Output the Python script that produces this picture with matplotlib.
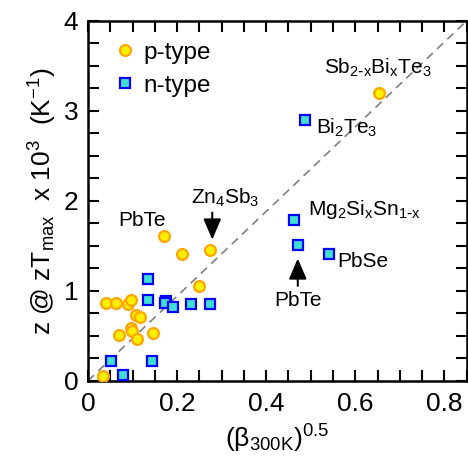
import matplotlib
matplotlib.use('Agg')
import matplotlib.pyplot as plt
from matplotlib.ticker import MultipleLocator

plt.rcParams['font.family'] = ['Liberation Sans', 'DejaVu Sans']
plt.rcParams['mathtext.default'] = 'regular'

# p-type points
p_x = [0.033, 0.040, 0.064, 0.089, 0.096, 0.107, 0.116, 0.069, 0.096,
       0.099, 0.109, 0.145, 0.171, 0.211, 0.249, 0.275, 0.654]
p_y = [0.05, 0.86, 0.86, 0.85, 0.90, 0.73, 0.71, 0.51, 0.585,
       0.555, 0.46, 0.53, 1.615, 1.41, 1.055, 1.45, 3.20]

# n-type points
n_x = [0.052, 0.079, 0.135, 0.135, 0.175, 0.172, 0.191, 0.231, 0.273,
       0.143, 0.487, 0.463, 0.471, 0.540]
n_y = [0.215, 0.067, 1.13, 0.90, 0.89, 0.863, 0.82, 0.852, 0.855,
       0.226, 2.90, 1.79, 1.51, 1.41]

# guide line
guide_x = [0.0, 0.85]
guide_y = [0.0, 4.0]

fig = plt.figure(figsize=(4.68, 4.65), dpi=100)
ax = fig.add_axes([0.188, 0.181, 0.809, 0.774])

ax.plot(guide_x, guide_y, color='#808080', lw=1.2, dashes=(5, 3.5), zorder=1)

ax.plot(n_x, n_y, 's', ms=6.5, mfc='#40e0d0', mec='#0000ff', mew=1.6,
        ls='none', label='n-type', zorder=3)
ax.plot(p_x, p_y, 'o', ms=7.8, mfc='#ffee00', mec='#ffa500', mew=1.6,
        ls='none', label='p-type', zorder=4)

ax.set_xlim(0, 0.85)
ax.set_ylim(0, 4)
ax.xaxis.set_major_locator(MultipleLocator(0.2))
ax.xaxis.set_minor_locator(MultipleLocator(0.05))
ax.yaxis.set_major_locator(MultipleLocator(1))
ax.yaxis.set_minor_locator(MultipleLocator(0.25))
ax.set_xticks([0, 0.2, 0.4, 0.6, 0.8])
ax.set_xticklabels(['0', '0.2', '0.4', '0.6', '0.8'])
ax.tick_params(which='both', direction='in', top=True, right=True,
               length=8, width=1.5, labelsize=19)
ax.tick_params(axis='x', pad=8)
ax.tick_params(axis='y', pad=7)
for s in ax.spines.values():
    s.set_linewidth(1.8)

ax.set_xlabel('(β$_{300K}$)$^{0.5}$', fontsize=19, labelpad=5)
ax.set_ylabel('z @ zT$_{max}$  x 10$^{3}$  (K$^{-1}$)', fontsize=19, labelpad=3)

h, l = ax.get_legend_handles_labels()
ax.legend(h[::-1], l[::-1], loc='upper left', frameon=False, fontsize=17.5,
          handletextpad=0.15, handlelength=1.2, borderaxespad=0.3,
          bbox_to_anchor=(0.014, 0.99), labelspacing=0.45)

fs = 15
ax.text(0.650, 3.41, r'Sb$_{2\text{-}x}$Bi$_x$Te$_3$', fontsize=fs, ha='center', va='baseline')
ax.text(0.513, 2.75, 'Bi$_2$Te$_3$', fontsize=fs, ha='left', va='baseline')
ax.text(0.495, 1.84, r'Mg$_2$Si$_x$Sn$_{1\text{-}x}$', fontsize=fs, ha='left', va='baseline')
ax.text(0.560, 1.27, 'PbSe', fontsize=fs, ha='left', va='baseline')
ax.text(0.471, 0.833, 'PbTe', fontsize=fs, ha='center', va='baseline')
ax.text(0.121, 1.726, 'PbTe', fontsize=fs, ha='center', va='baseline')
ax.text(0.307, 1.97, 'Zn$_4$Sb$_3$', fontsize=fs, ha='center', va='baseline')

arrow = dict(arrowstyle='-|>,head_length=0.7,head_width=0.3', color='black',
             lw=1.5, shrinkA=0, shrinkB=0, mutation_scale=18)
ax.annotate('', xy=(0.279, 1.57), xytext=(0.279, 1.87), arrowprops=arrow)
ax.annotate('', xy=(0.471, 1.36), xytext=(0.471, 1.056), arrowprops=arrow)

fig.savefig('out.png', dpi=100)
